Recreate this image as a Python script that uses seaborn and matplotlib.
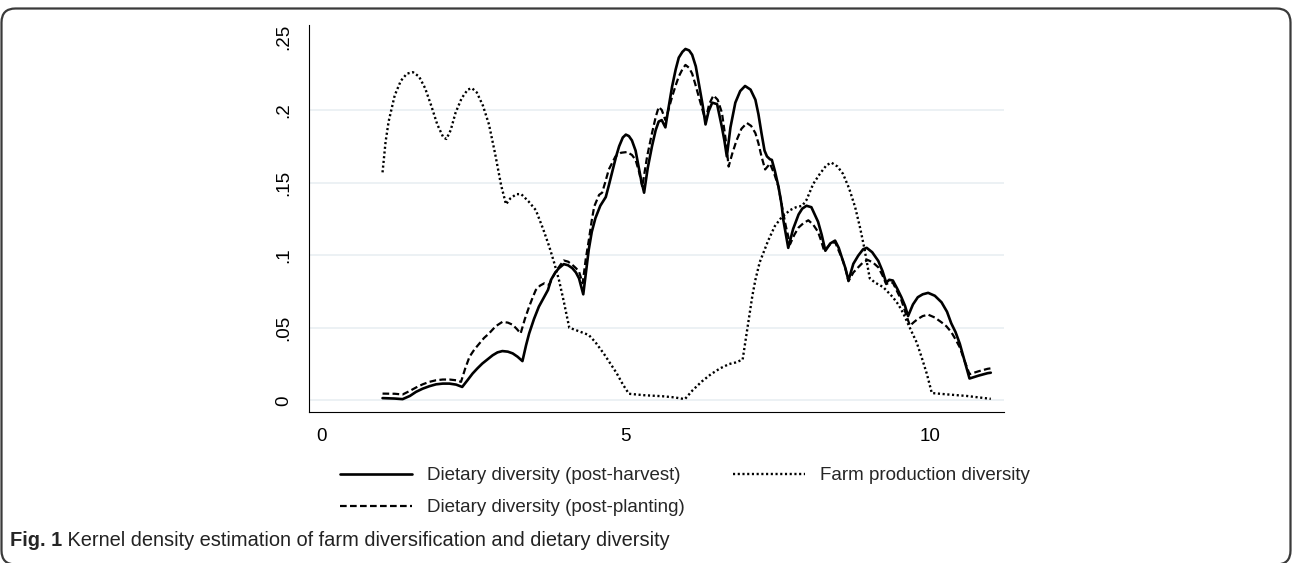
import matplotlib
matplotlib.use("Agg")
import matplotlib.pyplot as plt
from matplotlib import font_manager
from matplotlib.patches import FancyBboxPatch
from matplotlib.transforms import IdentityTransform
import seaborn as sns

# ---------------- data ----------------
harvest_x = [1.00, 1.20, 1.33, 1.45, 1.55, 1.66, 1.77, 1.88, 1.99, 2.10, 2.21, 2.31, 2.40, 2.48,
             2.56, 2.64, 2.72, 2.81, 2.89, 2.97, 3.06, 3.14, 3.22, 3.30, 3.36, 3.41, 3.49, 3.57,
             3.66, 3.72, 3.77, 3.84, 3.90, 3.98, 4.05, 4.12, 4.18, 4.23, 4.30, 4.35, 4.39, 4.44,
             4.50, 4.58, 4.67, 4.72, 4.78, 4.84, 4.89, 4.95, 5.00, 5.05, 5.10, 5.16, 5.21, 5.25,
             5.30, 5.36, 5.43, 5.49, 5.54, 5.59, 5.65, 5.70, 5.76, 5.82, 5.87, 5.93, 5.98, 6.04,
             6.09, 6.15, 6.20, 6.26, 6.31, 6.36, 6.42, 6.50, 6.58, 6.62, 6.66, 6.72, 6.80, 6.88,
             6.96, 7.05, 7.13, 7.18, 7.23, 7.28, 7.32, 7.37, 7.40, 7.45, 7.51, 7.56, 7.59, 7.67,
             7.75, 7.84, 7.90, 7.97, 8.05, 8.16, 8.22, 8.28, 8.36, 8.44, 8.50, 8.55, 8.61, 8.66,
             8.74, 8.82, 8.90, 8.96, 9.05, 9.15, 9.22, 9.28, 9.33, 9.39, 9.46, 9.53, 9.59, 9.64,
             9.72, 9.80, 9.88, 9.97, 10.08, 10.19, 10.28, 10.35, 10.42, 10.49, 10.57, 10.65,
             10.80, 10.95, 11.00]
harvest_y = [0.0015, 0.0012, 0.0008, 0.0030, 0.0058, 0.0080, 0.0097, 0.0110, 0.0115, 0.0115,
             0.0108, 0.0092, 0.0140, 0.0184, 0.0220, 0.0253, 0.0280, 0.0310, 0.0330, 0.0339,
             0.0335, 0.0323, 0.0300, 0.0270, 0.0380, 0.0460, 0.0560, 0.0645, 0.0714, 0.0760,
             0.0830, 0.0880, 0.0910, 0.0938, 0.0930, 0.0910, 0.0880, 0.0840, 0.0730, 0.0900,
             0.1037, 0.1160, 0.1255, 0.1340, 0.1400, 0.1480, 0.1580, 0.1680, 0.1750, 0.1810,
             0.1830, 0.1820, 0.1790, 0.1720, 0.1610, 0.1520, 0.1430, 0.1600, 0.1750, 0.1860,
             0.1920, 0.1930, 0.1880, 0.2010, 0.2160, 0.2280, 0.2360, 0.2400, 0.2420, 0.2410,
             0.2380, 0.2300, 0.2180, 0.2040, 0.1900, 0.1990, 0.2050, 0.2040, 0.1880, 0.1790,
             0.1680, 0.1880, 0.2050, 0.2130, 0.2165, 0.2140, 0.2070, 0.1970, 0.1840, 0.1720,
             0.1680, 0.1660, 0.1656, 0.1580, 0.1470, 0.1350, 0.1240, 0.1050, 0.1180, 0.1280,
             0.1320, 0.1340, 0.1330, 0.1230, 0.1140, 0.1030, 0.1080, 0.1100, 0.1050, 0.0985,
             0.0910, 0.0825, 0.0940, 0.0996, 0.1040, 0.1050, 0.1020, 0.0960, 0.0890, 0.0810,
             0.0830, 0.0825, 0.0770, 0.0710, 0.0650, 0.0580, 0.0660, 0.0710, 0.0730, 0.0740,
             0.0720, 0.0675, 0.0610, 0.0530, 0.0470, 0.0390, 0.0270, 0.0150, 0.0170, 0.0187,
             0.0190]

planting_x = [1.00, 1.20, 1.33, 1.45, 1.55, 1.66, 1.77, 1.88, 1.99, 2.10, 2.21, 2.29, 2.36, 2.43,
              2.51, 2.59, 2.67, 2.75, 2.86, 2.97, 3.06, 3.14, 3.21, 3.27, 3.34, 3.41, 3.47, 3.52,
              3.59, 3.66, 3.74, 3.80, 3.85, 3.92, 3.98, 4.05, 4.12, 4.18, 4.23, 4.29, 4.34, 4.39,
              4.44, 4.48, 4.56, 4.61, 4.66, 4.72, 4.78, 4.83, 4.92, 5.02, 5.10, 5.16, 5.22, 5.27,
              5.35, 5.43, 5.49, 5.54, 5.59, 5.65, 5.70, 5.76, 5.82, 5.87, 5.93, 5.98, 6.04, 6.09,
              6.14, 6.20, 6.26, 6.31, 6.37, 6.44, 6.51, 6.58, 6.64, 6.69, 6.75, 6.82, 6.90, 6.99,
              7.06, 7.13, 7.18, 7.23, 7.29, 7.33, 7.37, 7.44, 7.51, 7.56, 7.63, 7.70, 7.77, 7.84,
              7.92, 8.00, 8.08, 8.16, 8.21, 8.26, 8.35, 8.44, 8.50, 8.57, 8.62, 8.66, 8.74, 8.82,
              8.90, 8.98, 9.06, 9.15, 9.22, 9.28, 9.33, 9.39, 9.46, 9.53, 9.60, 9.67, 9.74, 9.80,
              9.88, 9.97, 10.08, 10.19, 10.27, 10.35, 10.42, 10.49, 10.57, 10.65, 10.80, 10.95,
              11.00]
planting_y = [0.0046, 0.0045, 0.0040, 0.0065, 0.0088, 0.0110, 0.0127, 0.0138, 0.0143, 0.0143,
              0.0138, 0.0127, 0.0220, 0.0300, 0.0350, 0.0390, 0.0430, 0.0460, 0.0510, 0.0540,
              0.0535, 0.0520, 0.0490, 0.0460, 0.0560, 0.0645, 0.0710, 0.0760, 0.0790, 0.0806,
              0.0795, 0.0850, 0.0887, 0.0930, 0.0963, 0.0955, 0.0933, 0.0910, 0.0887, 0.0806,
              0.0970, 0.1100, 0.1240, 0.1335, 0.1415, 0.1430, 0.1500, 0.1590, 0.1640, 0.1680,
              0.1705, 0.1710, 0.1690, 0.1656, 0.1570, 0.1470, 0.1680, 0.1840, 0.1950, 0.2020,
              0.2000, 0.1930, 0.2000, 0.2090, 0.2170, 0.2230, 0.2280, 0.2310, 0.2290, 0.2250,
              0.2180, 0.2090, 0.2000, 0.1930, 0.2040, 0.2100, 0.2070, 0.1980, 0.1800, 0.1610,
              0.1700, 0.1790, 0.1870, 0.1910, 0.1890, 0.1840, 0.1770, 0.1680, 0.1590, 0.1610,
              0.1630, 0.1560, 0.1470, 0.1350, 0.1200, 0.1075, 0.1140, 0.1190, 0.1220, 0.1240,
              0.1210, 0.1160, 0.1100, 0.1030, 0.1070, 0.1090, 0.1030, 0.0960, 0.0890, 0.0820,
              0.0880, 0.0916, 0.0950, 0.0966, 0.0950, 0.0916, 0.0860, 0.0800, 0.0810, 0.0810,
              0.0750, 0.0690, 0.0600, 0.0514, 0.0540, 0.0560, 0.0580, 0.0590, 0.0570, 0.0537,
              0.0510, 0.0470, 0.0420, 0.0365, 0.0270, 0.0180, 0.0200, 0.0217, 0.0220]

farm_x = [1.00, 1.05, 1.10, 1.20, 1.30, 1.40, 1.50, 1.60, 1.70, 1.80, 1.90, 2.00, 2.05, 2.12,
          2.20, 2.30, 2.40, 2.47, 2.55, 2.65, 2.75, 2.85, 2.95, 3.03, 3.10, 3.20, 3.28, 3.40,
          3.52, 3.64, 3.74, 3.82, 3.90, 3.98, 4.07, 4.20, 4.39, 4.50, 4.64, 4.75, 4.85, 4.95,
          5.05, 5.30, 5.60, 5.80, 5.97, 6.10, 6.25, 6.40, 6.55, 6.70, 6.80, 6.92, 7.00, 7.08,
          7.13, 7.20, 7.34, 7.45, 7.56, 7.70, 7.80, 7.90, 7.97, 8.08, 8.19, 8.30, 8.38, 8.48,
          8.57, 8.67, 8.77, 8.85, 8.92, 9.01, 9.10, 9.23, 9.39, 9.48, 9.56, 9.69, 9.78, 9.86,
          9.95, 10.03, 10.30, 10.60, 10.90, 11.00]
farm_y = [0.157, 0.178, 0.192, 0.210, 0.220, 0.225, 0.226, 0.223, 0.215, 0.203, 0.190, 0.181,
          0.180, 0.186, 0.198, 0.208, 0.214, 0.215, 0.212, 0.203, 0.190, 0.170, 0.148, 0.135,
          0.139, 0.142, 0.142, 0.137, 0.131, 0.118, 0.106, 0.095, 0.083, 0.068, 0.050, 0.048,
          0.045, 0.040, 0.032, 0.025, 0.0186, 0.011, 0.0045, 0.0035, 0.0028, 0.002, 0.0008,
          0.007, 0.013, 0.018, 0.022, 0.025, 0.026, 0.028, 0.050, 0.072, 0.083, 0.095, 0.110,
          0.120, 0.126, 0.131, 0.133, 0.134, 0.138, 0.149, 0.156, 0.162, 0.1637, 0.161, 0.156,
          0.146, 0.133, 0.119, 0.105, 0.084, 0.081, 0.078, 0.071, 0.066, 0.060, 0.048, 0.040,
          0.030, 0.018, 0.005, 0.004, 0.003, 0.0015, 0.001]

x_ticks = [0, 5, 10]
x_tick_labels = ["0", "5", "10"]
y_ticks = [0, 0.05, 0.10, 0.15, 0.20, 0.25]
y_tick_labels = ["0", ".05", ".1", ".15", ".2", ".25"]

label_harvest = "Dietary diversity (post-harvest)"
label_planting = "Dietary diversity (post-planting)"
label_farm = "Farm production diversity"
caption_bold = "Fig. 1"
caption_text = " Kernel density estimation of farm diversification and dietary diversity"

# ---------------- style ----------------
sns.set_theme(style="white")
avail = {f.name for f in font_manager.fontManager.ttflist}
tick_font = "Liberation Sans" if "Liberation Sans" in avail else "DejaVu Sans"
plt.rcParams["font.family"] = [tick_font, "DejaVu Sans"]
legend_size = 13.5
caption_size = 14.4

W, H = 1292, 563
fig = plt.figure(figsize=(W / 100, H / 100), dpi=100)
fig.patch.set_facecolor("white")

# rounded frame around the figure (in pixels); bottom edge sits just below the image
frame = FancyBboxPatch((1.5, -1.5), W - 3.0, H - 7.0,
                       boxstyle="round,pad=0,rounding_size=14",
                       transform=IdentityTransform(), facecolor="none",
                       edgecolor="#3a3a3a", linewidth=1.6, zorder=0)
fig.patches.append(frame)

ax = fig.add_axes([309.3 / W, (H - 412.3) / H, (1004 - 309.3) / W, (412.3 - 25) / H])
ax.set_facecolor("white")

sns.lineplot(x=harvest_x, y=harvest_y, ax=ax, color="black", linewidth=1.9,
             linestyle="-", estimator=None, sort=False, label=label_harvest, zorder=4)
sns.lineplot(x=planting_x, y=planting_y, ax=ax, color="black", linewidth=1.6,
             dashes=False, estimator=None, sort=False, label=label_planting, zorder=4)
sns.lineplot(x=farm_x, y=farm_y, ax=ax, color="black", linewidth=1.7,
             estimator=None, sort=False, label=label_farm, zorder=4)
lines = ax.get_lines()
lines[1].set_linestyle((0, (3.0, 1.5)))
lines[2].set_linestyle((0, (0.9, 1.1)))

ax.set_xlim(-0.204, 11.217)
ax.set_ylim(-0.00827, 0.2585)
ax.set_xticks(x_ticks)
ax.set_xticklabels(x_tick_labels)
ax.set_yticks(y_ticks)
ax.set_yticklabels(y_tick_labels, rotation=90, va="center")
ax.tick_params(axis="both", which="major", length=5.2, width=0.8, color="black",
               labelsize=13.5, labelcolor="black", direction="out")
ax.tick_params(axis="y", pad=7)
ax.tick_params(axis="x", pad=6)
ax.set_xlabel("")
ax.set_ylabel("")

ax.grid(False)
ax.yaxis.grid(True, color="#e9eff2", linewidth=1.2, zorder=0)
ax.set_axisbelow(True)
ax.get_ygridlines()[-1].set_visible(False)

for side in ("top", "right"):
    ax.spines[side].set_visible(False)
for side in ("left", "bottom"):
    ax.spines[side].set_color("black")
    ax.spines[side].set_linewidth(0.8)

handles, labels = ax.get_legend_handles_labels()
if ax.get_legend() is not None:
    ax.get_legend().remove()
fig.legend(handles, labels, ncol=2, loc="upper left",
           bbox_to_anchor=(340 / W, (H - 467) / H), bbox_transform=fig.transFigure,
           frameon=False, borderpad=0, borderaxespad=0,
           prop={"family": [tick_font, "DejaVu Sans"], "size": legend_size},
           handlelength=3.85, handletextpad=0.8, columnspacing=2.55, labelspacing=0.8)

# caption: bold "Fig. 1" followed by regular text
t1 = fig.text(10 / W, (H - 541) / H, caption_bold, ha="left", va="center",
              fontsize=caption_size, fontweight="bold", family=[tick_font, "DejaVu Sans"])
fig.canvas.draw()
bb = t1.get_window_extent(renderer=fig.canvas.get_renderer())
fig.text(bb.x1 / W, (H - 541) / H, caption_text, ha="left", va="center",
         fontsize=caption_size, family=[tick_font, "DejaVu Sans"], color="#222222")

fig.savefig("out.png", dpi=100, facecolor="white")
